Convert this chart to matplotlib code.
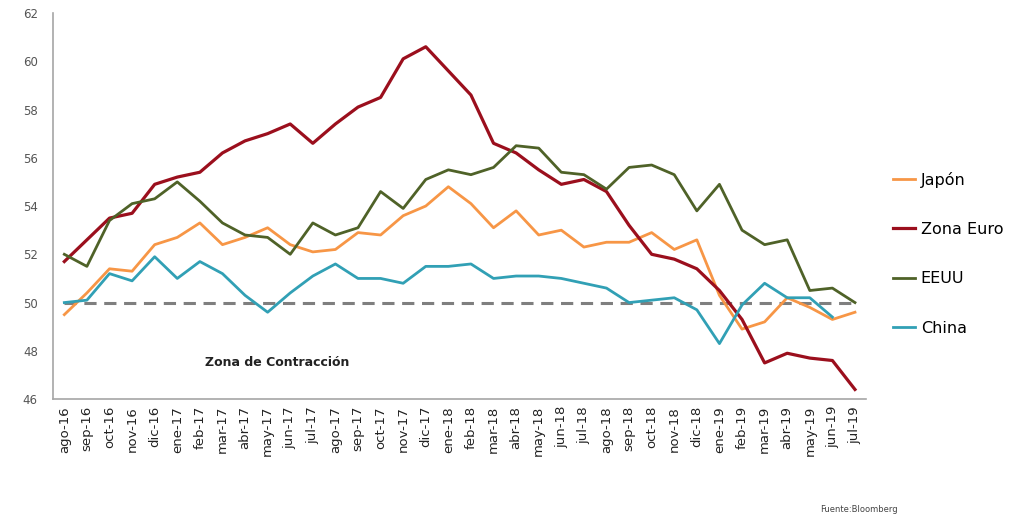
import matplotlib.pyplot as plt
import numpy as np

# Data (PMI manufacturero)
meses = ['ago-16', 'sep-16', 'oct-16', 'nov-16', 'dic-16', 'ene-17', 'feb-17', 'mar-17',
         'abr-17', 'may-17', 'jun-17', 'jul-17', 'ago-17', 'sep-17', 'oct-17', 'nov-17',
         'dic-17', 'ene-18', 'feb-18', 'mar-18', 'abr-18', 'may-18', 'jun-18', 'jul-18',
         'ago-18', 'sep-18', 'oct-18', 'nov-18', 'dic-18', 'ene-19', 'feb-19', 'mar-19',
         'abr-19', 'may-19', 'jun-19', 'jul-19']

japon = [49.5, 50.4, 51.4, 51.3, 52.4, 52.7, 53.3, 52.4, 52.7, 53.1, 52.4, 52.1,
         52.2, 52.9, 52.8, 53.6, 54.0, 54.8, 54.1, 53.1, 53.8, 52.8, 53.0, 52.3,
         52.5, 52.5, 52.9, 52.2, 52.6, 50.3, 48.9, 49.2, 50.2, 49.8, 49.3, 49.6]

zona_euro = [51.7, 52.6, 53.5, 53.7, 54.9, 55.2, 55.4, 56.2, 56.7, 57.0, 57.4, 56.6,
             57.4, 58.1, 58.5, 60.1, 60.6, 59.6, 58.6, 56.6, 56.2, 55.5, 54.9, 55.1,
             54.6, 53.2, 52.0, 51.8, 51.4, 50.5, 49.3, 47.5, 47.9, 47.7, 47.6, 46.4]

eeuu = [52.0, 51.5, 53.4, 54.1, 54.3, 55.0, 54.2, 53.3, 52.8, 52.7, 52.0, 53.3,
        52.8, 53.1, 54.6, 53.9, 55.1, 55.5, 55.3, 55.6, 56.5, 56.4, 55.4, 55.3,
        54.7, 55.6, 55.7, 55.3, 53.8, 54.9, 53.0, 52.4, 52.6, 50.5, 50.6, 50.0]

china = [50.0, 50.1, 51.2, 50.9, 51.9, 51.0, 51.7, 51.2, 50.3, 49.6, 50.4, 51.1,
         51.6, 51.0, 51.0, 50.8, 51.5, 51.5, 51.6, 51.0, 51.1, 51.1, 51.0, 50.8,
         50.6, 50.0, 50.1, 50.2, 49.7, 48.3, 49.9, 50.8, 50.2, 50.2, 49.4, np.nan]

umbral = 50

x = np.arange(len(meses))

fig = plt.figure(figsize=(10.12, 5.19), dpi=100)
ax = fig.add_axes([0.0524, 0.231, 0.8036, 0.744])

ax.plot(x, [umbral] * len(x), color='#7f7f7f', lw=2.2, ls=(0, (4, 2.5)), zorder=1)

l1, = ax.plot(x, japon, color='#f79646', lw=2, label='Japón')
l2, = ax.plot(x, zona_euro, color='#9b0f1d', lw=2.3, label='Zona Euro')
l3, = ax.plot(x, eeuu, color='#4f6228', lw=2, label='EEUU')
l4, = ax.plot(x, china, color='#31a0b5', lw=2, label='China')

ax.set_xlim(-0.5, len(meses) - 0.5)
ax.set_ylim(46, 62)
ax.set_yticks(range(46, 63, 2))
ax.set_xticks(x)
ax.set_xticklabels(meses, rotation=90, fontsize=9.5, color='#222222')
ax.tick_params(axis='y', labelsize=8.5, labelcolor='#555555', length=0, pad=11)
ax.tick_params(axis='x', length=0, pad=5)

for s in ['top', 'right']:
    ax.spines[s].set_visible(False)
for s in ['left', 'bottom']:
    ax.spines[s].set_color('#a6a6a6')
    ax.spines[s].set_linewidth(1.2)

ax.text(0.187, 0.096, 'Zona de Contracción', transform=ax.transAxes, va='center',
        fontsize=9, fontweight='bold', color='#222222')

fig.legend(handles=[l1, l2, l3, l4], loc='upper left', bbox_to_anchor=(0.868, 0.697),
           frameon=False, fontsize=11.5, handlelength=1.4, handletextpad=0.35,
           labelspacing=2.15)

fig.text(0.81, 0.013, 'Fuente:Bloomberg', fontsize=6, color='#444444')

fig.savefig('out.png', dpi=100)
